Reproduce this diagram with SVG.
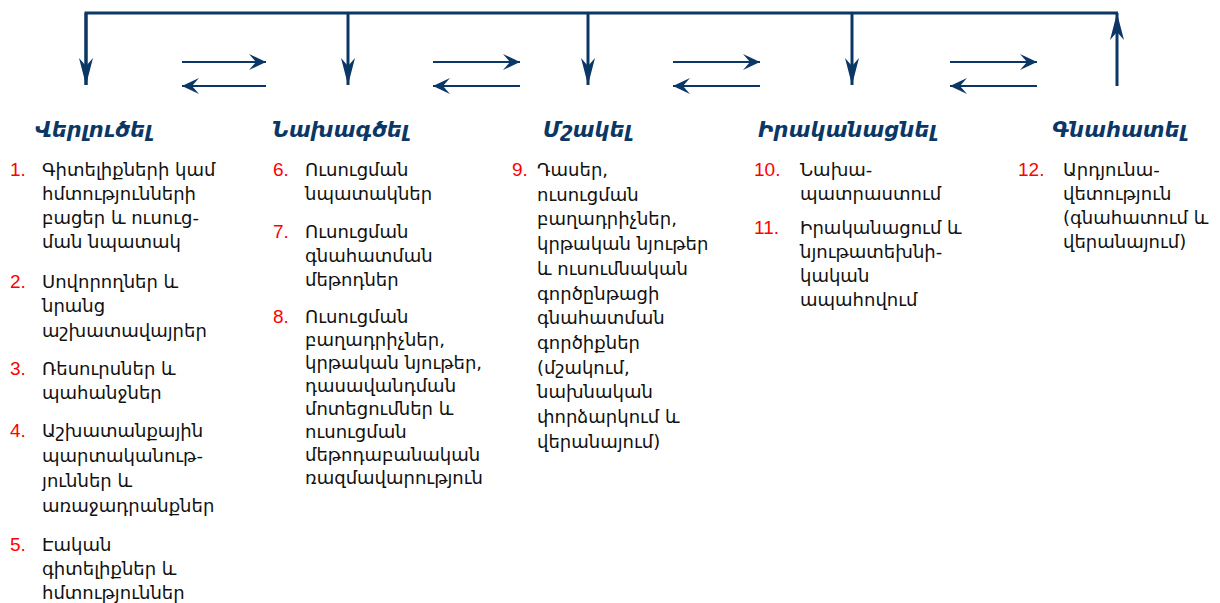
<svg xmlns="http://www.w3.org/2000/svg" width="1220" height="603" viewBox="0 0 1220 603">
<style>
.h{font-family:"DejaVu Sans",sans-serif;font-weight:bold;font-style:italic;font-size:21px;fill:#0b3766}
.t{font-family:"DejaVu Sans",sans-serif;font-size:18px;fill:#111}
.n{font-family:"Liberation Sans",Arial,sans-serif;font-size:19px;fill:#ff0000}
.main{stroke:#0b3766;stroke-width:3;fill:none}
.thin{stroke:#0b3766;stroke-width:2;fill:none}
</style>
<defs>
<marker id="big" markerUnits="userSpaceOnUse" viewBox="-28 -8 30 16" refX="0" refY="0" markerWidth="30" markerHeight="16" orient="auto">
<path d="M0,0 L-27,-7 L-19,0 L-27,7 Z" fill="#0b3766"/>
</marker>
<marker id="small" markerUnits="userSpaceOnUse" viewBox="-18 -9 20 18" refX="0" refY="0" markerWidth="20" markerHeight="18" orient="auto">
<path d="M0,0 L-17,-8 L-10,0 L-17,8 Z" fill="#0b3766"/>
</marker>
</defs>
<g id="connectors">
<path class="main" d="M86,85 V13 H1118"/>
<line class="main" x1="86" y1="13" x2="86" y2="85" marker-end="url(#big)"/>
<line class="main" x1="348" y1="13" x2="348" y2="85" marker-end="url(#big)"/>
<line class="main" x1="588" y1="13" x2="588" y2="85" marker-end="url(#big)"/>
<line class="main" x1="852" y1="13" x2="852" y2="85" marker-end="url(#big)"/>
<line class="main" x1="1117" y1="86" x2="1117" y2="13" marker-end="url(#big)"/>
<line class="thin" x1="182" y1="62" x2="266" y2="62" marker-end="url(#small)"/>
<line class="thin" x1="266" y1="86" x2="182" y2="86" marker-end="url(#small)"/>
<line class="thin" x1="433" y1="62" x2="520" y2="62" marker-end="url(#small)"/>
<line class="thin" x1="520" y1="86" x2="433" y2="86" marker-end="url(#small)"/>
<line class="thin" x1="673" y1="62" x2="760" y2="62" marker-end="url(#small)"/>
<line class="thin" x1="760" y1="86" x2="673" y2="86" marker-end="url(#small)"/>
<line class="thin" x1="950" y1="62" x2="1037" y2="62" marker-end="url(#small)"/>
<line class="thin" x1="1037" y1="86" x2="950" y2="86" marker-end="url(#small)"/>
</g>
<g id="analyze">
<text class="h" x="35" y="137">Վերլուծել</text>
<text class="n" x="10" y="176">1.</text>
<text class="t" x="42" y="176">Գիտելիքների կամ</text>
<text class="t" x="42" y="200">հմտությունների</text>
<text class="t" x="42" y="224">բացեր և ուսուց-</text>
<text class="t" x="42" y="248">ման նպատակ</text>
<text class="n" x="10" y="288">2.</text>
<text class="t" x="42" y="288">Սովորողներ և</text>
<text class="t" x="42" y="312">նրանց</text>
<text class="t" x="42" y="337">աշխատավայրեր</text>
<text class="n" x="10" y="375">3.</text>
<text class="t" x="42" y="375">Ռեսուրսներ և</text>
<text class="t" x="42" y="399">պահանջներ</text>
<text class="n" x="10" y="437">4.</text>
<text class="t" x="42" y="437">Աշխատանքային</text>
<text class="t" x="42" y="462">պարտականութ-</text>
<text class="t" x="42" y="487">յուններ և</text>
<text class="t" x="42" y="512">առաջադրանքներ</text>
<text class="n" x="10" y="551">5.</text>
<text class="t" x="42" y="551">Էական</text>
<text class="t" x="42" y="575">գիտելիքներ և</text>
<text class="t" x="42" y="599">հմտություններ</text>
</g>
<g id="design">
<text class="h" x="272" y="137">Նախագծել</text>
<text class="n" x="273" y="176">6.</text>
<text class="t" x="305" y="176">Ուսուցման</text>
<text class="t" x="305" y="200">նպատակներ</text>
<text class="n" x="273" y="238">7.</text>
<text class="t" x="305" y="238">Ուսուցման</text>
<text class="t" x="305" y="262">գնահատման</text>
<text class="t" x="305" y="286">մեթոդներ</text>
<text class="n" x="273" y="323">8.</text>
<text class="t" x="305" y="323">Ուսուցման</text>
<text class="t" x="305" y="346">բաղադրիչներ,</text>
<text class="t" x="305" y="369">կրթական նյութեր,</text>
<text class="t" x="305" y="392">դասավանդման</text>
<text class="t" x="305" y="415">մոտեցումներ և</text>
<text class="t" x="305" y="438">ուսուցման</text>
<text class="t" x="305" y="461">մեթոդաբանական</text>
<text class="t" x="305" y="484">ռազմավարություն</text>
</g>
<g id="develop">
<text class="h" x="543" y="137">Մշակել</text>
<text class="n" x="512" y="176">9.</text>
<text class="t" x="537" y="176">Դասեր,</text>
<text class="t" x="537" y="200.7">ուսուցման</text>
<text class="t" x="537" y="225.4">բաղադրիչներ,</text>
<text class="t" x="537" y="250.1">կրթական նյութեր</text>
<text class="t" x="537" y="274.8">և ուսումնական</text>
<text class="t" x="537" y="299.5">գործընթացի</text>
<text class="t" x="537" y="324.2">գնահատման</text>
<text class="t" x="537" y="348.9">գործիքներ</text>
<text class="t" x="537" y="373.6">(մշակում,</text>
<text class="t" x="537" y="398.3">նախնական</text>
<text class="t" x="537" y="423">փորձարկում և</text>
<text class="t" x="537" y="447.7">վերանայում)</text>
</g>
<g id="implement">
<text class="h" x="758" y="137">Իրականացնել</text>
<text class="n" x="754" y="176">10.</text>
<text class="t" x="800" y="176">Նախա-</text>
<text class="t" x="800" y="200">պատրաստում</text>
<text class="n" x="754" y="234">11.</text>
<text class="t" x="800" y="234">Իրականացում և</text>
<text class="t" x="800" y="258">նյութատեխնի-</text>
<text class="t" x="800" y="282">կական</text>
<text class="t" x="800" y="306">ապահովում</text>
</g>
<g id="evaluate">
<text class="h" x="1052" y="137">Գնահատել</text>
<text class="n" x="1018" y="176">12.</text>
<text class="t" x="1063" y="176">Արդյունա-</text>
<text class="t" x="1063" y="200">վետություն</text>
<text class="t" x="1063" y="224">(գնահատում և</text>
<text class="t" x="1063" y="248">վերանայում)</text>
</g>
</svg>
